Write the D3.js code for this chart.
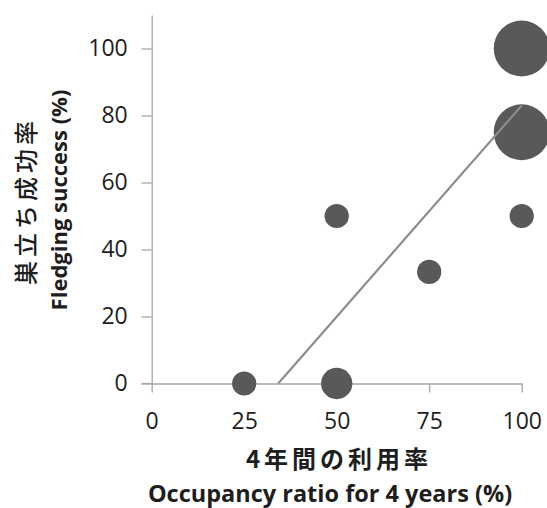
<!DOCTYPE html>
<html>
<head>
<meta charset="utf-8">
<script src="https://cdn.jsdelivr.net/npm/d3@7"></script>
<style>
  html, body { margin: 0; padding: 0; background: #fff; }
  svg { display: block; }
</style>
</head>
<body>
<svg id="chart" width="547" height="508"></svg>
<script>
// Nest boxes: occupancy over 4 years vs. fledging success, bubble size = number of nests
const occupancy = [25, 50, 50, 75, 100, 100, 100];
const fledging  = [0, 0, 50, 33.3, 50, 75, 100];
const nests     = [3, 5, 3, 3, 3, 16, 16];

// Linear trend line end points
const trendX = [34.2, 100];
const trendY = [0, 83];

const xTicks = [0, 25, 50, 75, 100];
const yTicks = [0, 20, 40, 60, 80, 100];

const xTitleJa = "4年間の利用率";
const xTitleEn = "Occupancy ratio for 4 years (%)";
const yTitleJa = "巣立ち成功率";
const yTitleEn = "Fledging success (%)";

const latin = "'Open Sans', 'Noto Sans', sans-serif";
const cjk = "'Noto Sans CJK JP', 'Noto Sans', sans-serif";
const axisColor = "#a6a6a6";
const textColor = "#1e1e1e";

const svg = d3.select("#chart");

const x = d3.scaleLinear().domain([0, 100]).range([151.7, 521.7]);
const y = d3.scaleLinear().domain([0, 110]).range([383.5, 15]);
const r = d3.scaleSqrt().domain([0, 16]).range([0, 28]);

// Y axis
const yAxis = svg.append("g")
  .attr("transform", `translate(${x(0)},0)`)
  .call(d3.axisLeft(y).tickValues(yTicks).tickSize(10).tickSizeOuter(0).tickPadding(14));
yAxis.select(".domain").attr("stroke", axisColor).attr("stroke-width", 1.3);
yAxis.selectAll(".tick line").attr("stroke", axisColor).attr("stroke-width", 1.3);
yAxis.selectAll(".tick text")
  .attr("fill", textColor)
  .style("font-family", latin)
  .style("font-size", "23px");

// X axis
const xAxis = svg.append("g")
  .attr("transform", `translate(0,${y(0)})`)
  .call(d3.axisBottom(x).tickValues(xTicks).tickSize(9).tickSizeOuter(0).tickPadding(20));
xAxis.select(".domain").attr("stroke", axisColor).attr("stroke-width", 1.3);
xAxis.selectAll(".tick line").attr("stroke", axisColor).attr("stroke-width", 1.3);
xAxis.selectAll(".tick text")
  .attr("fill", textColor)
  .style("font-family", latin)
  .style("font-size", "23px");

// extend the x axis line leftwards under the y tick at 0
svg.append("line")
  .attr("x1", x(0) - 10).attr("x2", x(0))
  .attr("y1", y(0)).attr("y2", y(0))
  .attr("stroke", axisColor).attr("stroke-width", 1.3);

// Bubbles
const points = occupancy.map((v, i) => ({ x: v, y: fledging[i], n: nests[i] }));
svg.append("g")
  .selectAll("circle")
  .data(points)
  .join("circle")
  .attr("cx", d => x(d.x))
  .attr("cy", d => y(d.y))
  .attr("r", d => r(d.n))
  .attr("fill", "#595959");

// Trend line
svg.append("path")
  .datum(trendX.map((v, i) => [v, trendY[i]]))
  .attr("d", d3.line().x(d => x(d[0])).y(d => y(d[1])))
  .attr("fill", "none")
  .attr("stroke", "#8c8c8c")
  .attr("stroke-width", 2.2);

// X axis titles
svg.append("text")
  .attr("x", 339).attr("y", 468)
  .attr("text-anchor", "middle")
  .attr("fill", textColor)
  .style("font-family", cjk)
  .style("font-weight", "bold")
  .style("font-size", "24px")
  .style("letter-spacing", "4px")
  .text(xTitleJa);

svg.append("text")
  .attr("x", 330).attr("y", 502)
  .attr("text-anchor", "middle")
  .attr("fill", textColor)
  .style("font-family", latin)
  .style("font-weight", "bold")
  .style("font-size", "23.5px")
  .text(xTitleEn);

// Y axis titles (rotated)
svg.append("text")
  .attr("transform", "translate(35,201) rotate(-90)")
  .attr("text-anchor", "middle")
  .attr("fill", textColor)
  .style("font-family", cjk)
  .style("font-weight", "500")
  .style("font-size", "24px")
  .style("letter-spacing", "4px")
  .text(yTitleJa);

svg.append("text")
  .attr("transform", "translate(67,200) rotate(-90)")
  .attr("text-anchor", "middle")
  .attr("fill", textColor)
  .style("font-family", latin)
  .style("font-weight", "bold")
  .style("font-size", "22px")
  .text(yTitleEn);
</script>
</body>
</html>
